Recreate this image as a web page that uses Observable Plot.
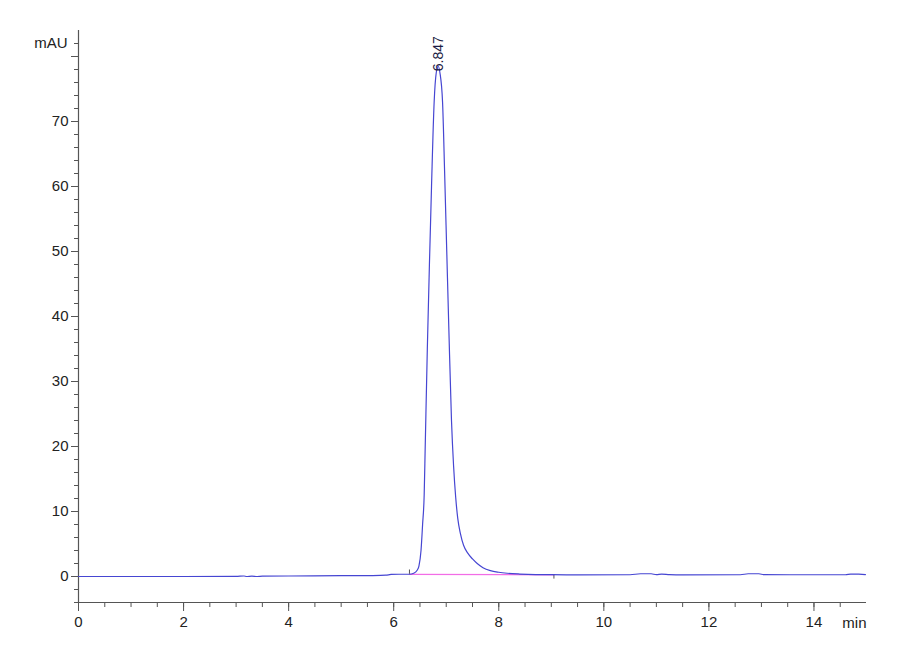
<!DOCTYPE html>
<html><head><meta charset="utf-8">
<script src="https://cdn.jsdelivr.net/npm/d3@7"></script>
<script src="https://cdn.jsdelivr.net/npm/@observablehq/plot@0.6"></script>
<style>body{margin:0;background:#fff} #chart{width:900px;height:660px}</style>
</head><body><div id="chart"></div>
<script>
// chromatogram trace (min, mAU)
const time = [0, 1.0, 2.0, 3.0, 3.15, 3.2, 3.3, 3.4, 3.5, 4.0, 5.0, 5.6, 5.85, 5.95, 6.1, 6.3,
  6.38, 6.45, 6.48, 6.52, 6.55, 6.58, 6.60, 6.64, 6.68, 6.72, 6.77, 6.81, 6.847,
  6.88, 6.93, 6.97, 7.01, 7.05, 7.10, 7.14, 7.18, 7.22, 7.27, 7.33, 7.41, 7.5, 7.59, 7.7, 7.84, 8.0, 8.16, 8.4, 8.7,
  9.0, 9.5, 10.5, 10.7, 10.9, 11.0, 11.1, 11.25, 11.5, 12.6, 12.75, 12.95, 13.05, 14.0, 14.6, 14.7, 14.85, 14.98];
const signal = [0, 0, 0, 0.02, 0.08, 0, 0.06, 0, 0.05, 0.08, 0.12, 0.15, 0.2, 0.32, 0.35, 0.35,
  0.5, 1.0, 1.6, 4.0, 8.0, 12.5, 20, 35, 48, 60, 73, 77.5, 78.5,
  77.5, 73, 62, 50, 38, 24, 17, 12.2, 8.9, 6.6, 4.8, 3.6, 2.7, 2.0, 1.35, 0.9, 0.65, 0.5, 0.38, 0.3,
  0.28, 0.26, 0.27, 0.42, 0.42, 0.28, 0.38, 0.3, 0.26, 0.27, 0.42, 0.42, 0.28, 0.27, 0.27, 0.36, 0.36, 0.3];

// integration baseline
const baseTime = [6.3, 9.05];
const baseSignal = [0.33, 0.28];
const baseMarkTop = [1.0, 0.28];
const baseMarkBottom = [0.33, -0.4];

// peak annotation
const peakTime = [6.847];
const peakHeight = [78.5];
const peakLabel = ["6.847"];

// ticks
const xMajor = [0, 2, 4, 6, 8, 10, 12, 14];
const xMinor = [0,0.5,1,1.5,2,2.5,3,3.5,4,4.5,5,5.5,6,6.5,7,7.5,8,8.5,9,9.5,10,10.5,11,11.5,12,12.5,13,13.5,14,14.5];
const yMajor = [0, 10, 20, 30, 40, 50, 60, 70, 80];
const yLabels = [0, 10, 20, 30, 40, 50, 60, 70];
const yMinor = [-4,-2,0,2,4,6,8,10,12,14,16,18,20,22,24,26,28,30,32,34,36,38,40,42,44,46,48,50,52,54,56,58,60,62,64,66,68,70,72,74,76,78,80,82];

const axisFont = "'Liberation Sans Narrow', 'Liberation Sans', Arial, sans-serif";
const axisColor = "#555";

const chart = Plot.plot({
  width: 900,
  height: 660,
  marginLeft: 78,
  marginRight: 34,
  marginTop: 30,
  marginBottom: 58,
  style: {fontFamily: axisFont, fontSize: "15px", color: "#222", background: "#fff"},
  x: {domain: [0, 15]},
  y: {domain: [-4, 84]},
  marks: [
    Plot.axisY(yMinor, {tickSize: 4, tickFormat: () => "", label: null, stroke: axisColor}),
    Plot.axisY(yMajor, {tickSize: 7, tickPadding: 3, tickFormat: d => yLabels.includes(d) ? String(d) : "", label: null, stroke: axisColor, fill: "#222"}),
    Plot.axisX(xMinor, {tickSize: 5, tickFormat: () => "", label: null, stroke: axisColor}),
    Plot.axisX(xMajor, {tickSize: 9, tickPadding: 5, tickFormat: d => String(d), label: null, stroke: axisColor, fill: "#222"}),
    Plot.ruleX([0], {stroke: axisColor, strokeWidth: 1.2}),
    Plot.ruleY([-4], {stroke: axisColor, strokeWidth: 1.2}),
    Plot.line(baseTime.map((t, i) => ({t, v: baseSignal[i]})), {x: "t", y: "v", stroke: "#f26de6", strokeWidth: 1.4}),
    Plot.ruleX(baseTime.map((t, i) => ({t, y1: baseMarkBottom[i], y2: baseMarkTop[i]})), {x: "t", y1: "y1", y2: "y2", stroke: "#555", strokeWidth: 1}),
    Plot.line(time.map((t, i) => ({t, v: signal[i]})), {x: "t", y: "v", stroke: "#4646d2", strokeWidth: 1.2, curve: "monotone-x"}),
    Plot.text(peakTime.map((t, i) => ({t, v: peakHeight[i], s: peakLabel[i]})), {x: "t", y: "v", text: "s", rotate: -90, textAnchor: "start", dy: 5, fill: "#1c1c44", fontFamily: "'Liberation Sans', Arial, sans-serif", fontSize: 14}),
    Plot.text(["mAU"], {x: () => 0, y: () => 82, text: d => d, textAnchor: "end", dx: -11, fill: "#222"}),
    Plot.text(["min"], {x: () => 15, y: () => -4, text: d => d, textAnchor: "end", dy: 21, fill: "#222"})
  ]
});
document.getElementById("chart").appendChild(chart);
</script>
</body></html>
